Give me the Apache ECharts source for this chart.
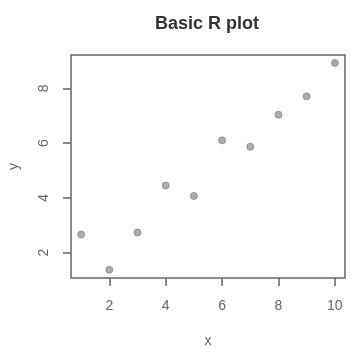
<!DOCTYPE html>
<html>
<head>
<meta charset="utf-8">
<script src="https://cdn.jsdelivr.net/npm/echarts@6/dist/echarts.min.js"></script>
<style>
  html, body { margin: 0; padding: 0; background: #fff; }
  #chart { width: 357px; height: 349px; }
</style>
</head>
<body>
<div id="chart"></div>
<script>
// data
const xValues = [1, 2, 3, 4, 5, 6, 7, 8, 9, 10];
const yValues = [2.66, 1.37, 2.73, 4.45, 4.07, 6.1, 5.87, 7.04, 7.71, 8.93];
const xTicks = [2, 4, 6, 8, 10];
const yTicks = [2, 4, 6, 8];

let points = [];
for (let i = 0; i < xValues.length; i++) {
  points.push([xValues[i], yValues[i]]);
}

let myChart = echarts.init(document.getElementById('chart'));
let option = {
  backgroundColor: '#fff',
  animation: false,
  title: {
    text: 'Basic R plot',
    left: 150,
    top: 10,
    textStyle: { fontFamily: 'Liberation Sans', fontSize: 18, fontWeight: 'bold', color: '#333' }
  },
  grid: {
    left: 71, top: 55, right: 12, bottom: 71,
    outerBoundsMode: 'none',
    containLabel: false,
    show: true, borderColor: '#666', borderWidth: 1.5, backgroundColor: '#fff'
  },
  xAxis: {
    type: 'value',
    min: 0.64, max: 10.36,
    name: 'x',
    nameLocation: 'middle',
    nameGap: 56,
    nameTextStyle: { fontFamily: 'Liberation Sans', fontSize: 14, color: '#666' },
    axisLine: { show: false },
    splitLine: { show: false },
    axisTick: { show: true, length: 8, customValues: xTicks, lineStyle: { color: '#666', width: 1.5 } },
    axisLabel: { customValues: xTicks, margin: 21, fontFamily: 'Liberation Sans', fontSize: 14, color: '#666' }
  },
  yAxis: {
    type: 'value',
    min: 1.07, max: 9.22,
    name: 'y',
    nameLocation: 'middle',
    nameRotate: 90,
    nameGap: 50,
    nameTextStyle: { fontFamily: 'Liberation Sans', fontSize: 14, color: '#666' },
    axisLine: { show: false },
    splitLine: { show: false },
    axisTick: { show: true, length: 8, customValues: yTicks, lineStyle: { color: '#666', width: 1.5 } },
    axisLabel: { customValues: yTicks, rotate: 90, margin: 20, fontFamily: 'Liberation Sans', fontSize: 14, color: '#666' }
  },
  series: [{
    type: 'scatter',
    data: points,
    symbol: 'circle',
    symbolSize: 7,
    itemStyle: { color: '#999', borderColor: '#888', borderWidth: 1 }
  }]
};
myChart.setOption(option);
</script>
</body>
</html>
